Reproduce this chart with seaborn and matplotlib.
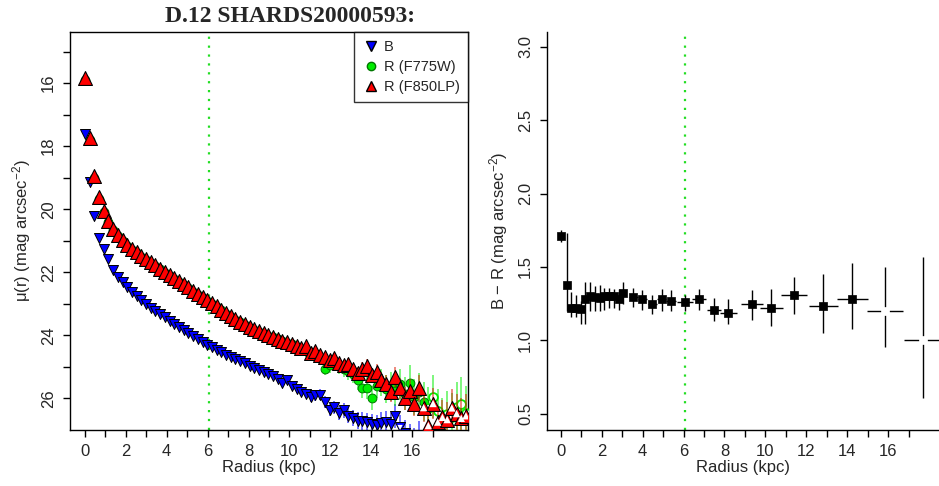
import numpy as np
import pandas as pd
import matplotlib
matplotlib.use("Agg")
import matplotlib.pyplot as plt
import seaborn as sns
from matplotlib.lines import Line2D

# ---------------- data ----------------
radius = [0.00, 0.23, 0.46, 0.69, 0.92, 1.15, 1.38, 1.61, 1.84, 2.07,
          2.30, 2.53, 2.76, 2.99, 3.22, 3.45, 3.68, 3.91, 4.14, 4.37,
          4.60, 4.83, 5.06, 5.29, 5.52, 5.75, 5.98, 6.21, 6.44, 6.67,
          6.90, 7.13, 7.36, 7.59, 7.82, 8.05, 8.28, 8.51, 8.74, 8.97,
          9.20, 9.43, 9.66, 9.89, 10.12, 10.35, 10.58, 10.81, 11.04, 11.27,
          11.50, 11.73, 11.96, 12.19, 12.42, 12.65, 12.88, 13.11, 13.34, 13.57,
          13.80, 14.03, 14.26, 14.49, 14.72, 14.95, 15.18, 15.41, 15.64, 15.87,
          16.10, 16.33, 16.56, 16.79, 17.02, 17.25, 17.48, 17.71, 17.94, 18.17,
          18.40, 18.63]

mu_B = [17.60, 19.15, 20.20, 20.90, 21.27, 21.58, 21.92, 22.14, 22.32, 22.47,
        22.62, 22.75, 22.88, 23.00, 23.12, 23.23, 23.33, 23.43, 23.53, 23.63,
        23.73, 23.83, 23.93, 24.02, 24.11, 24.20, 24.29, 24.38, 24.46, 24.54,
        24.61, 24.68, 24.75, 24.82, 24.89, 24.96, 25.03, 25.10, 25.17, 25.23,
        25.29, 25.38, 25.50, 25.42, 25.60, 25.70, 25.78, 25.85, 25.95, 25.90,
        25.88, 26.10, 26.35, 26.28, 26.45, 26.38, 26.55, 26.62, 26.70, 26.72,
        26.75, 26.80, 26.85, 26.78, 26.75, 26.82, 26.55, 26.92, 27.10, 27.25,
        27.40, 27.20, 27.50, 27.60, 27.45, 27.70, 27.80, 27.65, 27.90, 28.00,
        27.85, 28.10]

mu_F775W = [15.90, 17.80, 19.00, 19.66, 20.08, 20.41, 20.65, 20.85, 21.01, 21.15,
            21.28, 21.40, 21.51, 21.61, 21.71, 21.81, 21.91, 22.01, 22.11, 22.21,
            22.31, 22.41, 22.51, 22.61, 22.71, 22.81, 22.91, 23.01, 23.11, 23.21,
            23.31, 23.41, 23.50, 23.59, 23.67, 23.75, 23.83, 23.90, 23.97, 24.03,
            24.06, 24.12, 24.17, 24.23, 24.28, 24.36, 24.43, 24.50, 24.58, 24.62,
            24.72, 25.05, 24.95, 24.85, 24.98, 25.05, 25.12, 25.22, 25.40, 25.66,
            25.66, 25.97, 25.60, 25.50, 25.70, 25.62, 25.75, 25.55, 25.85, 25.50,
            25.94, 25.80, 26.10, 26.30, 25.94, 26.40, 26.70, 26.50, 26.60, 26.28,
            26.16, 26.45]

mu_F850LP = [15.85, 17.75, 18.95, 19.62, 20.05, 20.38, 20.62, 20.82, 20.98, 21.12,
             21.25, 21.37, 21.48, 21.58, 21.68, 21.78, 21.88, 21.98, 22.08, 22.18,
             22.28, 22.38, 22.48, 22.58, 22.68, 22.78, 22.88, 22.98, 23.08, 23.18,
             23.28, 23.38, 23.47, 23.56, 23.64, 23.72, 23.80, 23.87, 23.94, 24.00,
             24.06, 24.12, 24.17, 24.22, 24.27, 24.33, 24.39, 24.35, 24.55, 24.48,
             24.62, 24.70, 24.78, 24.72, 24.88, 24.95, 24.90, 25.08, 25.20, 25.05,
             24.98, 25.25, 25.17, 25.43, 25.53, 25.80, 25.32, 25.68, 26.00, 25.75,
             26.16, 25.68, 26.29, 26.86, 26.16, 26.75, 26.60, 26.67, 26.30, 26.48,
             26.63, 26.55]

err_B = [0.05, 0.06, 0.04, 0.03, 0.03, 0.03, 0.03, 0.03, 0.03, 0.03,
         0.03, 0.03, 0.03, 0.03, 0.03, 0.03, 0.04, 0.04, 0.04, 0.04,
         0.04, 0.04, 0.04, 0.05, 0.05, 0.05, 0.05, 0.05, 0.06, 0.06,
         0.06, 0.06, 0.07, 0.07, 0.07, 0.08, 0.08, 0.08, 0.09, 0.09,
         0.10, 0.10, 0.11, 0.12, 0.12, 0.13, 0.14, 0.15, 0.16, 0.17,
         0.18, 0.19, 0.20, 0.21, 0.22, 0.23, 0.24, 0.26, 0.27, 0.28,
         0.30, 0.31, 0.33, 0.34, 0.36, 0.37, 0.39, 0.41, 0.43, 0.45,
         0.47, 0.49, 0.51, 0.53, 0.55, 0.57, 0.60, 0.62, 0.64, 0.66,
         0.68, 0.70]

err_F775W = [0.03, 0.05, 0.03, 0.02, 0.02, 0.02, 0.02, 0.02, 0.02, 0.02,
             0.02, 0.02, 0.02, 0.02, 0.02, 0.03, 0.03, 0.03, 0.03, 0.03,
             0.03, 0.03, 0.04, 0.04, 0.04, 0.04, 0.05, 0.05, 0.05, 0.05,
             0.06, 0.06, 0.06, 0.07, 0.07, 0.08, 0.08, 0.09, 0.09, 0.10,
             0.10, 0.11, 0.12, 0.13, 0.14, 0.15, 0.16, 0.17, 0.18, 0.19,
             0.20, 0.21, 0.23, 0.24, 0.26, 0.27, 0.29, 0.30, 0.32, 0.34,
             0.36, 0.38, 0.40, 0.42, 0.44, 0.46, 0.48, 0.50, 0.52, 0.55,
             0.57, 0.60, 0.62, 0.65, 0.67, 0.70, 0.72, 0.75, 0.78, 0.80,
             0.83, 0.86]

err_F850LP = [0.03, 0.05, 0.03, 0.02, 0.02, 0.02, 0.02, 0.02, 0.02, 0.02,
              0.02, 0.02, 0.02, 0.02, 0.02, 0.02, 0.02, 0.02, 0.02, 0.02,
              0.02, 0.02, 0.02, 0.02, 0.02, 0.03, 0.03, 0.03, 0.03, 0.03,
              0.03, 0.03, 0.04, 0.04, 0.04, 0.04, 0.05, 0.05, 0.05, 0.05,
              0.06, 0.06, 0.06, 0.07, 0.07, 0.08, 0.08, 0.09, 0.10, 0.10,
              0.11, 0.12, 0.13, 0.14, 0.15, 0.16, 0.17, 0.18, 0.19, 0.20,
              0.22, 0.23, 0.25, 0.26, 0.28, 0.30, 0.32, 0.34, 0.36, 0.38,
              0.40, 0.42, 0.45, 0.47, 0.50, 0.52, 0.55, 0.57, 0.60, 0.62,
              0.65, 0.68]

# colour profile (binned)
col_r = [0.00, 0.28, 0.49, 0.73, 0.96, 1.18, 1.44, 1.67, 1.89, 2.13,
         2.36, 2.59, 2.82, 3.05, 3.54, 3.98, 4.47, 4.92, 5.39, 6.08,
         6.77, 7.50, 8.19, 9.36, 10.29, 11.40, 12.83, 14.25, 15.85, 17.73]
col_BR = [1.71, 1.38, 1.22, 1.22, 1.215, 1.28, 1.30, 1.295, 1.29, 1.30,
          1.30, 1.30, 1.28, 1.32, 1.295, 1.28, 1.25, 1.28, 1.27, 1.26,
          1.28, 1.21, 1.19, 1.245, 1.22, 1.31, 1.235, 1.28, 1.20, 1.00]
col_hi = [1.755, 1.73, 1.33, 1.31, 1.27, 1.40, 1.40, 1.37, 1.38, 1.36,
          1.36, 1.35, 1.35, 1.40, 1.36, 1.345, 1.31, 1.35, 1.34, 1.31,
          1.35, 1.29, 1.28, 1.34, 1.35, 1.43, 1.45, 1.53, 1.50, 1.57]
col_lo = [1.67, 1.20, 1.16, 1.16, 1.115, 1.11, 1.20, 1.20, 1.20, 1.21,
          1.22, 1.22, 1.21, 1.25, 1.23, 1.21, 1.18, 1.20, 1.20, 1.20,
          1.21, 1.13, 1.11, 1.14, 1.10, 1.18, 1.05, 1.08, 0.955, 0.61]
col_xerr = [0.05, 0.11, 0.11, 0.11, 0.11, 0.11, 0.11, 0.11, 0.11, 0.11,
            0.11, 0.11, 0.11, 0.11, 0.23, 0.23, 0.23, 0.23, 0.23, 0.39,
            0.34, 0.35, 0.41, 0.53, 0.57, 0.63, 0.70, 0.75, 0.88, 0.95]

r_break = 6.06
open_B, open_775, open_850, open_col = 15.3, 16.7, 16.45, 15.0

title = "D.12 SHARDS20000593:"

# ---------------- style ----------------
sns.set_theme(style="white")
plt.rcParams["font.family"] = ["Liberation Sans", "DejaVu Sans"]
plt.rcParams["mathtext.fontset"] = "custom"
plt.rcParams["mathtext.rm"] = "Liberation Sans"
plt.rcParams["mathtext.it"] = "Liberation Sans:italic"
plt.rcParams["axes.edgecolor"] = "black"
plt.rcParams["axes.linewidth"] = 1.0

fig = plt.figure(figsize=(9.39, 4.86), dpi=100)
W, H = 939.0, 486.0
axL = fig.add_axes([70 / W, 1 - 430 / H, 398 / W, 398 / H])
axR = fig.add_axes([547 / W, 1 - 430 / H, 392 / W, 398 / H])

prof = pd.DataFrame({"r": radius, "B": mu_B, "G": mu_F775W, "R": mu_F850LP,
                     "eB": err_B, "eG": err_F775W, "eR": err_F850LP})

BLUE, GREEN, RED = "#0000FF", "#00EE00", "#FF0000"

# ---------------- left panel ----------------
ax = axL
ax.errorbar(prof.r, prof.B, yerr=prof.eB, fmt="none", ecolor=(0, 0, 1, 0.6),
            elinewidth=1.3, zorder=1)
fB = prof[prof.r < open_B]
oB = prof[prof.r >= open_B]
sns.scatterplot(x=fB.r, y=fB.B, marker="v", s=52, color=BLUE, edgecolor="black",
                linewidth=0.7, ax=ax, zorder=2, legend=False)
sns.scatterplot(x=oB.r, y=oB.B, marker="v", s=52, color=BLUE, edgecolor="black",
                linewidth=0.7, ax=ax, zorder=2, legend=False)
sns.scatterplot(x=oB.r, y=oB.B, marker="v", s=14, color="white", edgecolor="none",
                linewidth=0, ax=ax, zorder=2.1, legend=False)

ax.errorbar(prof.r, prof.G, yerr=prof.eG, fmt="none", ecolor=(0, 0.93, 0, 0.55),
            elinewidth=1.3, zorder=3)
fG = prof[prof.r < open_775]
oG = prof[prof.r >= open_775]
sns.scatterplot(x=fG.r, y=fG.G, marker="o", s=40, color=GREEN, edgecolor="#007700",
                linewidth=0.7, ax=ax, zorder=4, legend=False)
sns.scatterplot(x=oG.r, y=oG.G, marker="o", s=40, color="white", edgecolor=GREEN,
                linewidth=1.3, ax=ax, zorder=4, legend=False)

ax.errorbar(prof.r, prof.R, yerr=prof.eR, fmt="none", ecolor=(0.85, 0.1, 0, 0.55),
            elinewidth=1.3, zorder=5)
fR = prof[prof.r < open_850]
oR = prof[prof.r >= open_850]
sns.scatterplot(x=fR.r, y=fR.R, marker="^", s=100, color=RED, edgecolor="black",
                linewidth=0.8, ax=ax, zorder=6, legend=False)
sns.scatterplot(x=oR.r, y=oR.R, marker="^", s=100, color=RED, edgecolor="black",
                linewidth=0.8, ax=ax, zorder=6, legend=False)
sns.scatterplot(x=oR.r, y=oR.R, marker="^", s=28, color="white", edgecolor="none",
                linewidth=0, ax=ax, zorder=6.1, legend=False)

ax.axvline(r_break, color="#22DD22", linestyle=(0, (1, 3)), linewidth=1.6, zorder=0)
ax.set_xlim(-0.73, 18.73)
ax.set_ylim(27.0, 14.38)
ax.set_xticks(range(0, 18))
ax.set_xticklabels([str(v) if v % 2 == 0 else "" for v in range(0, 18)])
ax.set_yticks(range(15, 27))
ax.set_yticklabels([str(v) if v % 2 == 0 else "" for v in range(15, 27)],
                   rotation=90, va="center")
ax.set_xlabel("Radius (kpc)", fontsize=12, labelpad=1)
ax.set_ylabel("μ(r) (mag arcsec$^{-2}$)", fontsize=12, labelpad=6)
for s in ax.spines.values():
    s.set_visible(True)
    s.set_color("black")

handles = [
    Line2D([], [], marker="v", linestyle="none", markerfacecolor=BLUE,
           markeredgecolor="black", markersize=7),
    Line2D([], [], marker="o", linestyle="none", markerfacecolor=GREEN,
           markeredgecolor="#007700", markersize=6),
    Line2D([], [], marker="^", linestyle="none", markerfacecolor=RED,
           markeredgecolor="black", markersize=7),
]
leg = ax.legend(handles, ["B", "R (F775W)", "R (F850LP)"], loc="upper right",
                fontsize=10.5, frameon=True, fancybox=False, borderaxespad=0,
                handletextpad=0.3, borderpad=0.55, labelspacing=0.42,
                handlelength=1.2)
leg.get_frame().set_edgecolor("black")
leg.get_frame().set_linewidth(1.0)
leg.set_zorder(10)

# ---------------- right panel ----------------
col = pd.DataFrame({"r": col_r, "c": col_BR, "hi": col_hi, "lo": col_lo,
                    "xe": col_xerr})
ax = axR
ax.errorbar(col.r, col.c, yerr=[col.c - col.lo, col.hi - col.c], xerr=col.xe,
            fmt="none", ecolor="black", elinewidth=1.0, zorder=1)
fc = col[col.r < open_col]
oc = col[col.r >= open_col]
sns.scatterplot(x=fc.r, y=fc.c, marker="s", s=30, color="black", edgecolor="black",
                linewidth=0.5, ax=ax, zorder=2, legend=False)
sns.scatterplot(x=oc.r, y=oc.c, marker="s", s=30, color="white", edgecolor="white",
                linewidth=0.5, ax=ax, zorder=2, legend=False)
ax.axvline(r_break, color="#22DD22", linestyle=(0, (1, 3)), linewidth=1.6, zorder=0)
ax.set_xlim(-0.68, 18.49)
ax.set_ylim(0.39, 3.10)
ax.set_xticks(range(0, 18))
ax.set_xticklabels([str(v) if v % 2 == 0 else "" for v in range(0, 18)])
ax.set_yticks([0.5, 1.0, 1.5, 2.0, 2.5, 3.0])
ax.set_yticklabels(["0.5", "1.0", "1.5", "2.0", "2.5", "3.0"], rotation=90,
                   va="center")
ax.set_xlabel("Radius (kpc)", fontsize=12, labelpad=1)
ax.set_ylabel("B − R (mag arcsec$^{-2}$)", fontsize=12, labelpad=6)
ax.spines["top"].set_visible(False)
ax.spines["right"].set_visible(False)
ax.spines["left"].set_color("black")
ax.spines["bottom"].set_color("black")

for a in (axL, axR):
    a.tick_params(axis="both", which="both", direction="out", length=5,
                  width=1.0, color="black", labelsize=12, pad=5,
                  bottom=True, left=True)

fig.text(290 / W, 1 - 17 / H, title, ha="center", va="center", fontsize=17,
         fontweight="bold", family=["Liberation Serif", "DejaVu Serif"])

fig.savefig("out.png", dpi=100)
